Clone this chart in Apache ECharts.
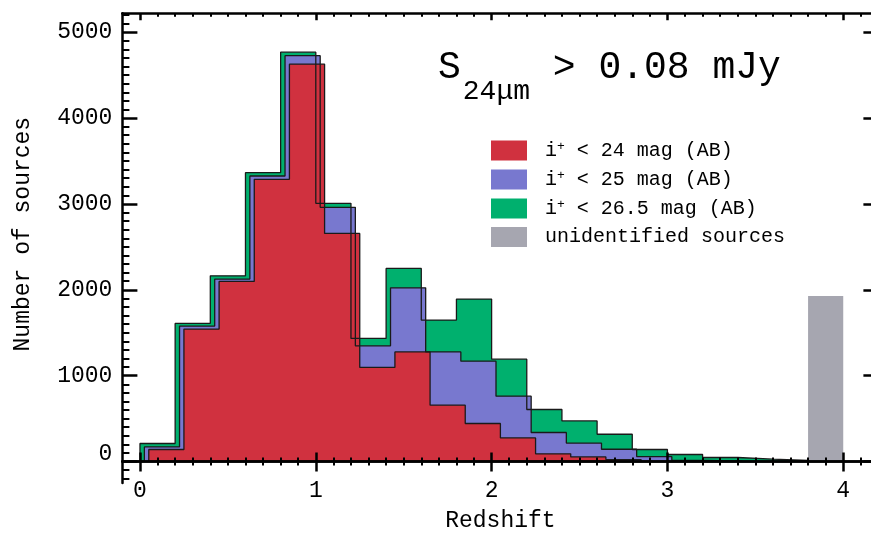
<!DOCTYPE html>
<html>
<head>
<meta charset="utf-8">
<script src="https://cdn.jsdelivr.net/npm/echarts@6/dist/echarts.min.js"></script>
<style>
  html, body { margin: 0; background: #fff; }
  #chart { width: 871px; height: 534px; }
</style>
</head>
<body>
<div id="chart"></div>
<script>
// redshift bins (left edge), all 0.2 wide
const binLeft = [0.0, 0.2, 0.4, 0.6, 0.8, 1.0, 1.2, 1.4, 1.6, 1.8, 2.0, 2.2, 2.4, 2.6, 2.8, 3.0, 3.2, 3.4, 3.6]
const binWidth = 0.2
const countsI24 = [140, 1542, 2098, 3287, 4627, 2657, 1096, 1277, 656, 443, 275, 90, 54, 23, 0, 0, 0, 0, 0]
const countsI25 = [170, 1577, 2125, 3325, 4727, 2960, 1347, 2023, 1277, 1169, 761, 338, 215, 143, 58, 12, 5, 0, 0]
const countsI265 = [210, 1608, 2163, 3364, 4767, 3007, 1434, 2249, 1647, 1892, 1192, 606, 473, 318, 140, 82, 47, 27, 12]
const unidBinLeft = [3.8]
const countsUnid = [1927]

const seriesNames = ['i+ < 24 mag (AB)', 'i+ < 25 mag (AB)', 'i+ < 26.5 mag (AB)', 'unidentified sources']
const xTicks = [0, 1, 2, 3, 4]
const yTicks = [0, 1000, 2000, 3000, 4000, 5000]

const FONT = 'Liberation Mono'

// outline of a filled histogram, shifted a little so the layers show
function stepPoints(lefts, counts, shift) {
  let n = counts.length
  while (n > 0 && counts[n - 1] === 0) n--
  const pts = [[lefts[0] + shift, 0]]
  for (let i = 0; i < n; i++) pts.push([lefts[i] + shift, counts[i]])
  const right = lefts[n - 1] + binWidth + shift
  pts.push([right, counts[n - 1]])
  pts.push([right, 0])
  return pts
}

function histSeries(name, data, fill, outline) {
  return {
    name: name,
    type: 'line',
    step: 'end',
    data: data,
    symbol: 'none',
    itemStyle: { color: fill },
    lineStyle: { color: outline ? '#1a1a1a' : fill, width: outline ? 1.3 : 0 },
    areaStyle: { color: fill, opacity: 1 }
  }
}

const chart = echarts.init(document.getElementById('chart'))
chart.setOption({
  animation: false,
  backgroundColor: '#fff',
  title: {
    text: '{s|S}{sub|24μm}{s| > 0.08 mJy}',
    left: 433,
    top: 44,
    textStyle: {
      fontWeight: 'normal',
      rich: {
        s: { fontFamily: FONT, fontSize: 38, fontWeight: 'normal', lineHeight: 44, color: '#000', verticalAlign: 'top' },
        sub: { fontFamily: FONT, fontSize: 28, fontWeight: 'normal', lineHeight: 32, color: '#000', verticalAlign: 'top', padding: [29, 0, 0, 2] }
      }
    }
  },
  legend: {
    orient: 'vertical',
    left: 486,
    top: 135,
    itemWidth: 36,
    itemHeight: 20,
    itemGap: 8,
    icon: 'rect',
    data: seriesNames,
    itemStyle: { borderWidth: 0 },
    formatter: function (name) {
      if (name.indexOf('i+') === 0) return '{i|i}{sup|+}{t|' + name.slice(2) + '}'
      return '{u|' + name + '}'
    },
    textStyle: {
      color: '#000',
      rich: {
        i: { fontFamily: FONT, fontSize: 20, lineHeight: 20, padding: [0, 0, 0, 13] },
        sup: { fontFamily: FONT, fontSize: 13, lineHeight: 12, padding: [0, 0, 8, 0] },
        t: { fontFamily: FONT, fontSize: 20, lineHeight: 20 },
        u: { fontFamily: FONT, fontSize: 20, lineHeight: 20, padding: [0, 0, 0, 13] }
      }
    }
  },
  grid: [
    { left: 122.4, right: -7.4, top: 13.3, bottom: 51, outerBoundsMode: 'none' },
    { left: 122.4, right: -7.4, top: 13.3, bottom: 51, outerBoundsMode: 'none' }
  ],
  xAxis: [
    {
      type: 'value', gridIndex: 0, min: -0.1, max: 4.2, position: 'bottom', z: 5,
      axisLine: { onZero: true, lineStyle: { color: '#000', width: 2.5 } },
      axisTick: { inside: true, length: 9, customValues: xTicks, lineStyle: { color: '#000', width: 2.5 } },
      minorTick: { show: true, splitNumber: 10, length: 4, lineStyle: { color: '#000', width: 2 } },
      axisLabel: { customValues: xTicks, margin: -4, fontFamily: FONT, fontSize: 23, color: '#000' },
      splitLine: { show: false },
      name: 'Redshift',
      nameLocation: 'middle',
      nameGap: 26,
      nameTextStyle: { fontFamily: FONT, fontSize: 23, color: '#000' }
    },
    {
      type: 'value', gridIndex: 0, min: -0.1, max: 4.2, position: 'top', z: 5,
      axisLine: { onZero: false, lineStyle: { color: '#000', width: 2.5 } },
      axisTick: { inside: true, length: 7, customValues: xTicks, lineStyle: { color: '#000', width: 2.5 } },
      minorTick: { show: true, splitNumber: 10, length: 3.5, lineStyle: { color: '#000', width: 2 } },
      axisLabel: { show: false },
      splitLine: { show: false }
    },
    {
      type: 'value', gridIndex: 1, min: -0.1, max: 4.2, position: 'bottom', z: 5,
      axisLine: { onZero: true, lineStyle: { color: '#000', width: 2.5 } },
      axisTick: { inside: false, length: 10, customValues: xTicks, lineStyle: { color: '#000', width: 2.5 } },
      minorTick: { show: true, splitNumber: 10, length: 4, lineStyle: { color: '#000', width: 2 } },
      axisLabel: { show: false },
      splitLine: { show: false }
    }
  ],
  yAxis: [
    {
      type: 'value', gridIndex: 0, min: -250, max: 5220, position: 'left', z: 5,
      axisLine: { show: true, onZero: false, lineStyle: { color: '#000', width: 2.5 } },
      axisTick: { inside: true, length: 15, customValues: yTicks, lineStyle: { color: '#000', width: 2.5 } },
      minorTick: { show: true, splitNumber: 10, length: 7, lineStyle: { color: '#000', width: 2 } },
      axisLabel: {
        customValues: yTicks, margin: 10, fontFamily: FONT, fontSize: 23, color: '#000',
        formatter: function (v) { return v === 0 ? '{z|0}' : String(v) },
        rich: { z: { fontFamily: FONT, fontSize: 23, color: '#000', padding: [0, 0, 16, 0] } }
      },
      splitLine: { show: false },
      name: 'Number of sources',
      nameLocation: 'middle',
      nameGap: 88,
      nameTextStyle: { fontFamily: FONT, fontSize: 23, color: '#000', padding: [0, 0, 0, 28] }
    },
    {
      type: 'value', gridIndex: 0, min: -250, max: 5220, position: 'right', z: 5,
      axisLine: { show: true, onZero: false, lineStyle: { color: '#000', width: 2.5 } },
      axisTick: { inside: true, length: 15, customValues: yTicks, lineStyle: { color: '#000', width: 2.5 } },
      axisLabel: { show: false },
      splitLine: { show: false }
    },
    { type: 'value', gridIndex: 1, min: -250, max: 5220, show: false, splitLine: { show: false } }
  ],
  series: [
    histSeries(seriesNames[2], stepPoints(binLeft, countsI265, 0), '#00b06e', true),
    histSeries(seriesNames[1], stepPoints(binLeft, countsI25, 0.025), '#7878cf', true),
    histSeries(seriesNames[0], stepPoints(binLeft, countsI24, 0.05), '#d0313f', true),
    histSeries(seriesNames[3], stepPoints(unidBinLeft, countsUnid, 0), '#a6a6b0', false)
  ]
})
</script>
</body>
</html>
